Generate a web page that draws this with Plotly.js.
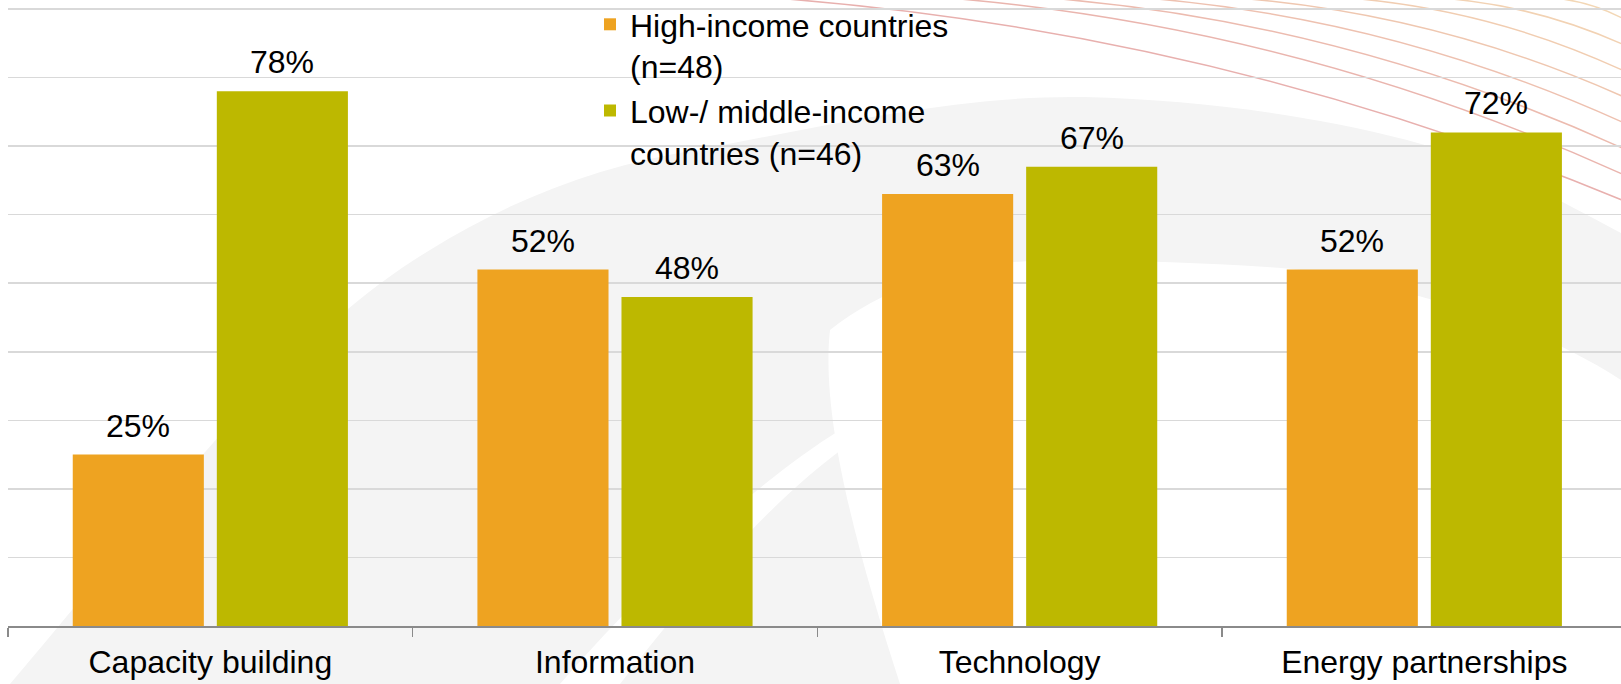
<!DOCTYPE html>
<html><head><meta charset="utf-8">
<script src="https://cdn.plot.ly/plotly-3.0.1.min.js"></script>
<style>html,body{margin:0;padding:0;background:#fff;}#chart{width:1621px;height:684px;}</style>
</head><body><div id="chart"></div>
<script>
// ---- data ----
const categories = ["Capacity building", "Information", "Technology", "Energy partnerships"];
const seriesNames = ["High-income countries<br>(n=48)", "Low-/ middle-income<br>countries (n=46)"];
const highIncome = [25, 52, 63, 52];
const lowMiddleIncome = [78, 48, 67, 72];
const seriesColors = ["#EEA321", "#BDB800"];

// ---- geometry helpers (pixel -> paper) for decorative background ----
const W = 1621, H = 684, ML = 8, MR = 0, MT = 7, MB = 58;
const pw = W - ML - MR, ph = H - MT - MB;
function px(x) { return (x - ML) / pw; }
function py(y) { return (H - MB - y) / ph; }
function P(str) {
  return str.replace(/(-?\d+\.?\d*)\s*,\s*(-?\d+\.?\d*)/g,
    (m, a, b) => px(+a).toFixed(5) + ',' + py(+b).toFixed(5));
}

const shapes = [];
// faint grey swoosh watermark
shapes.push({
  type: 'path', xref: 'paper', yref: 'paper', layer: 'below',
  path: P('M 10,684 C 150,520 280,340 430,250 C 510,200 600,165 697,150 C 830,125 960,95 1084,97 C 1200,100 1310,115 1407,140 C 1490,162 1560,200 1621,233 L 1621,684 Z'),
  fillcolor: '#f4f4f4', line: {width: 0}
});
shapes.push({
  type: 'path', xref: 'paper', yref: 'paper', layer: 'below',
  path: P('M 830,330 C 880,290 950,266 1015,262 C 1080,258 1180,262 1267,267 C 1330,270 1380,285 1433,300 C 1480,310 1560,340 1621,380 L 1621,684 L 900,684 C 860,560 820,420 830,330 Z'),
  fillcolor: '#ffffff', line: {width: 0}
});
shapes.push({
  type: 'path', xref: 'paper', yref: 'paper', layer: 'below',
  path: P('M 560,684 L 620,684 C 700,580 790,480 870,430 L 840,430 C 760,480 660,570 560,684 Z'),
  fillcolor: '#ffffff', line: {width: 0}
});
// thin arcs (top right decoration): start on top edge, end on right edge
const arcStartX = [787, 960, 1061, 1157, 1249, 1360, 1452, 1562];
const arcEndY = [200, 174, 148, 122, 96, 70, 44, 18];
const arcColors = ['#e8b0ae', '#eab5ae', '#ecbbaf', '#eec1b0', '#efc7b0', '#f1cdb1', '#f2d2b3', '#f3d7b5'];
arcStartX.forEach((sx, i) => {
  const ey = arcEndY[i];
  const cx = sx + 0.52 * (W - sx), cy = 0.17 * ey;
  shapes.push({
    type: 'path', xref: 'paper', yref: 'paper', layer: 'below',
    path: P(`M ${sx},-1 Q ${cx.toFixed(1)},${cy.toFixed(1)} ${W + 1},${ey}`),
    line: {color: arcColors[i], width: 1.5}
  });
});

const fontFam = 'Liberation Sans, Arial, sans-serif';
const seriesValues = [highIncome, lowMiddleIncome];
const traces = seriesValues.map((vals, i) => ({
  type: 'bar', x: categories, y: vals, name: seriesNames[i],
  marker: {color: seriesColors[i], line: {width: 0}},
  hoverinfo: 'skip'
}));

// value labels above bars
const groupShift = [-72, 72];
const annotations = [];
seriesValues.forEach((vals, i) => {
  vals.forEach((v, j) => {
    annotations.push({
      x: categories[j], y: v, xref: 'x', yref: 'y', text: v + '%',
      showarrow: false, xanchor: 'center', yanchor: 'bottom',
      xshift: groupShift[i], yshift: 9,
      font: {size: 32, family: fontFam, color: '#000'}
    });
  });
});

const layout = {
  width: W, height: H,
  margin: {l: ML, r: MR, t: MT, b: MB, pad: 0, autoexpand: false},
  paper_bgcolor: '#ffffff', plot_bgcolor: 'rgba(0,0,0,0)',
  font: {family: fontFam, size: 32, color: '#000'},
  barmode: 'group', bargap: 0.288, bargroupgap: 0.09,
  showlegend: true,
  legend: {x: px(590), y: py(-3), xanchor: 'left', yanchor: 'top', valign: 'top',
    bgcolor: 'rgba(0,0,0,0)', font: {size: 32, family: fontFam, color: '#000'},
    tracegroupgap: 0, traceorder: 'normal'},
  xaxis: {type: 'category', range: [-0.5, 3.486], showgrid: false, zeroline: false,
    showline: true, linecolor: '#8a8a8a', linewidth: 1.5,
    ticks: 'outside', ticklen: 9, tickwidth: 1.5, tickcolor: '#8a8a8a', tickson: 'boundaries',
    ticklabelstandoff: 7, automargin: false,
    tickfont: {size: 32, family: fontFam, color: '#000'}, fixedrange: true},
  yaxis: {range: [0, 90.29], tick0: 0, dtick: 10, showticklabels: false, ticks: '',
    showgrid: true, gridcolor: '#d9d9d9', gridwidth: 1.5, zeroline: false, showline: false,
    automargin: false, fixedrange: true},
  shapes: shapes,
  annotations: annotations
};

Plotly.newPlot('chart', traces, layout, {displayModeBar: false, staticPlot: true});
</script>
</body></html>
